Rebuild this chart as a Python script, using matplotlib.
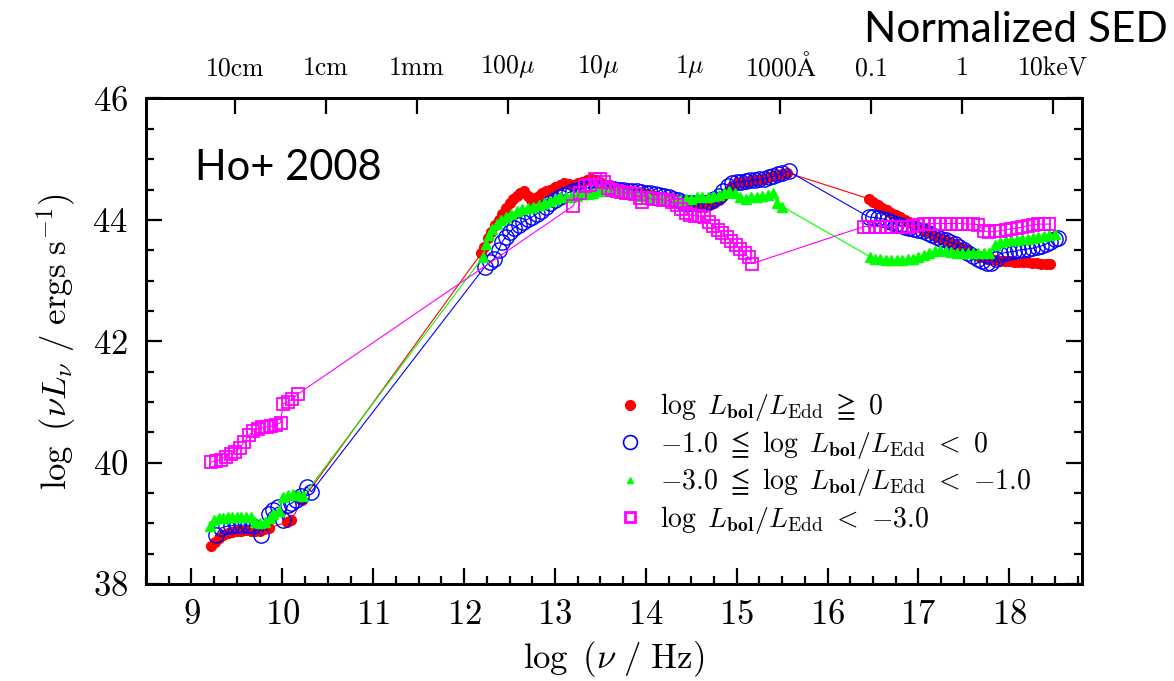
import matplotlib
matplotlib.use("Agg")
import matplotlib.pyplot as plt
from matplotlib.ticker import MultipleLocator
from matplotlib.lines import Line2D

plt.rcParams['font.family'] = ['serif']
plt.rcParams['font.serif'] = ['cmr10', 'DejaVu Serif']
plt.rcParams['mathtext.fontset'] = 'cm'
plt.rcParams['axes.formatter.use_mathtext'] = True

# ---------------- data ----------------
red_x = [9.22, 9.26, 9.30, 9.35, 9.40, 9.45, 9.50, 9.55, 9.60, 9.65, 9.70, 9.75, 9.80, 9.85,
         10.05, 10.10, 10.22,
         12.19, 12.22, 12.26, 12.30, 12.34, 12.38, 12.42, 12.46, 12.50, 12.54, 12.58, 12.62, 12.66,
         12.70, 12.74, 12.78, 12.82, 12.86, 12.90, 12.95, 13.00, 13.05, 13.10, 13.15, 13.20, 13.25,
         13.30, 13.35, 13.40, 13.45, 13.50, 13.55, 13.60, 13.65, 13.70, 13.75, 13.80, 13.85, 13.90,
         13.95, 14.00, 14.05, 14.10, 14.15, 14.20, 14.25, 14.30, 14.35, 14.40, 14.45, 14.50, 14.55,
         14.60, 14.65, 14.70, 14.75, 14.80, 14.85, 14.90, 14.95, 15.00, 15.05, 15.10, 15.15, 15.20,
         15.25, 15.30, 15.35, 15.40, 15.45, 15.50, 15.55,
         16.45, 16.50, 16.55, 16.60, 16.65, 16.70, 16.75, 16.80, 16.85, 16.90, 16.95, 17.00, 17.05,
         17.10, 17.15, 17.20, 17.25, 17.30, 17.35, 17.40, 17.45, 17.50, 17.55, 17.60, 17.65, 17.70,
         17.75, 17.80, 17.85, 17.90, 17.95, 18.00, 18.05, 18.10, 18.15, 18.20, 18.25, 18.30, 18.35,
         18.40, 18.45]
red_y = [38.62, 38.70, 38.76, 38.80, 38.84, 38.86, 38.88, 38.88, 38.89, 38.88, 38.88, 38.88, 38.90, 38.92,
         39.02, 39.06, 39.38,
         43.45, 43.55, 43.70, 43.80, 43.92, 44.00, 44.10, 44.20, 44.28, 44.34, 44.40, 44.44, 44.47,
         44.40, 44.33, 44.36, 44.40, 44.44, 44.47, 44.50, 44.54, 44.58, 44.60, 44.59, 44.58, 44.60,
         44.62, 44.65, 44.67, 44.66, 44.62, 44.58, 44.55, 44.52, 44.50, 44.48, 44.47, 44.46, 44.45,
         44.44, 44.42, 44.41, 44.40, 44.38, 44.37, 44.35, 44.34, 44.33, 44.31, 44.28, 44.26, 44.24,
         44.22, 44.22, 44.24, 44.28, 44.33, 44.40, 44.48, 44.55, 44.60, 44.62, 44.63, 44.64, 44.65,
         44.66, 44.68, 44.70, 44.72, 44.74, 44.76, 44.78,
         44.35, 44.30, 44.25, 44.20, 44.16, 44.12, 44.08, 44.04, 44.00, 43.96, 43.92, 43.88, 43.84,
         43.80, 43.76, 43.72, 43.69, 43.66, 43.63, 43.60, 43.56, 43.52, 43.48, 43.44, 43.41, 43.38,
         43.36, 43.35, 43.34, 43.33, 43.32, 43.32, 43.31, 43.31, 43.30, 43.30, 43.29, 43.29, 43.28,
         43.28, 43.27]

blue_x = [9.27, 9.32, 9.38, 9.44, 9.50, 9.56, 9.62, 9.68, 9.77, 9.85, 9.90, 9.95, 10.01, 10.06,
          10.10, 10.15, 10.20, 10.27, 10.32,
          12.23, 12.28, 12.33, 12.38, 12.42, 12.46, 12.50, 12.55, 12.60, 12.65, 12.70, 12.75, 12.80,
          12.85, 12.90, 12.95, 13.00, 13.05, 13.10, 13.15, 13.20, 13.25, 13.30, 13.35, 13.40, 13.45,
          13.50, 13.55, 13.60, 13.65, 13.70, 13.75, 13.80, 13.85, 13.90, 13.95, 14.00, 14.05, 14.10,
          14.15, 14.20, 14.25, 14.30, 14.35, 14.40, 14.45, 14.50, 14.55, 14.60, 14.65, 14.70, 14.75,
          14.80, 14.85, 14.90, 14.95, 15.00, 15.05, 15.10, 15.15, 15.20, 15.25, 15.30, 15.35, 15.40,
          15.45, 15.50, 15.57,
          16.45, 16.50, 16.55, 16.60, 16.65, 16.70, 16.75, 16.80, 16.85, 16.90, 16.95, 17.00, 17.05,
          17.10, 17.15, 17.20, 17.25, 17.30, 17.35, 17.40, 17.45, 17.50, 17.55, 17.60, 17.65, 17.70,
          17.75, 17.80, 17.85, 17.90, 17.95, 18.00, 18.05, 18.10, 18.15, 18.20, 18.25, 18.30, 18.35,
          18.40, 18.45, 18.50, 18.53]
blue_y = [38.80, 38.92, 38.95, 38.96, 38.97, 38.97, 38.97, 38.96, 38.80, 39.16, 39.22, 39.27, 39.05, 39.30,
          39.33, 39.38, 39.45, 39.60, 39.52,
          43.23, 43.30, 43.36, 43.50, 43.64, 43.72, 43.80, 43.87, 43.92, 43.97, 44.01, 44.05, 44.10,
          44.15, 44.22, 44.28, 44.33, 44.37, 44.41, 44.45, 44.48, 44.50, 44.52, 44.53, 44.53, 44.53,
          44.53, 44.52, 44.52, 44.51, 44.50, 44.49, 44.48, 44.48, 44.47, 44.46, 44.45, 44.44, 44.43,
          44.41, 44.39, 44.37, 44.35, 44.32, 44.30, 44.28, 44.27, 44.27, 44.27, 44.28, 44.30, 44.34,
          44.40, 44.47, 44.55, 44.60, 44.62, 44.63, 44.64, 44.65, 44.66, 44.67, 44.68, 44.70, 44.72,
          44.75, 44.77, 44.80,
          44.05, 44.04, 44.03, 44.02, 44.00, 43.97, 43.94, 43.91, 43.89, 43.87, 43.85, 43.83, 43.81,
          43.78, 43.75, 43.72, 43.69, 43.66, 43.63, 43.60, 43.56, 43.51, 43.46, 43.41, 43.36, 43.32,
          43.29, 43.29, 43.36, 43.44, 43.46, 43.47, 43.48, 43.50, 43.51, 43.52, 43.53, 43.55, 43.57,
          43.60, 43.64, 43.68, 43.70]

green_x = [9.20, 9.25, 9.30, 9.35, 9.40, 9.45, 9.50, 9.55, 9.60, 9.65, 9.70, 9.75, 9.81, 9.86,
           9.90, 9.96, 10.01, 10.06, 10.12, 10.17, 10.23,
           12.21, 12.24, 12.27, 12.31, 12.36, 12.41, 12.46, 12.52, 12.58, 12.64, 12.70, 12.76, 12.82,
           12.88, 12.94, 13.00, 13.06, 13.12, 13.18, 13.24, 13.30, 13.36, 13.42, 13.48, 13.54, 13.60,
           13.66, 13.72, 13.78, 13.84, 13.90, 13.96, 14.02, 14.08, 14.14, 14.20, 14.26, 14.32, 14.38,
           14.44, 14.50, 14.56, 14.62, 14.68, 14.74, 14.80, 14.86, 14.92, 14.98, 15.04, 15.10, 15.16,
           15.22, 15.28, 15.34, 15.40, 15.44, 15.50,
           16.47, 16.52, 16.58, 16.64, 16.70, 16.76, 16.82, 16.88, 16.94, 17.00, 17.06, 17.12, 17.18,
           17.24, 17.30, 17.36, 17.42, 17.48, 17.54, 17.60, 17.66, 17.72, 17.78, 17.84, 17.90, 17.96,
           18.02, 18.08, 18.14, 18.20, 18.26, 18.32, 18.38, 18.44, 18.50]
green_y = [38.95, 39.05, 39.08, 39.09, 39.10, 39.10, 39.10, 39.10, 39.10, 39.10, 39.02, 39.01, 39.02, 39.08,
           39.16, 39.20, 39.44, 39.46, 39.48, 39.47, 39.45,
           43.39, 43.60, 43.75, 43.85, 43.94, 44.00, 44.05, 44.10, 44.15, 44.18, 44.20, 44.22, 44.24,
           44.27, 44.31, 44.35, 44.38, 44.38, 44.38, 44.40, 44.42, 44.43, 44.45, 44.47, 44.48, 44.49,
           44.48, 44.46, 44.44, 44.42, 44.41, 44.40, 44.39, 44.38, 44.37, 44.36, 44.34, 44.33, 44.33,
           44.34, 44.35, 44.37, 44.38, 44.38, 44.39, 44.41, 44.44, 44.48, 44.44, 44.38, 44.34, 44.37,
           44.38, 44.39, 44.41, 44.45, 44.28, 44.22,
           43.39, 43.36, 43.35, 43.34, 43.34, 43.34, 43.34, 43.35, 43.36, 43.38, 43.42, 43.46, 43.49,
           43.50, 43.49, 43.47, 43.46, 43.46, 43.45, 43.45, 43.45, 43.45, 43.46, 43.58, 43.63, 43.65,
           43.66, 43.67, 43.68, 43.69, 43.70, 43.71, 43.73, 43.75, 43.76]

mag_x = [9.22, 9.27, 9.32, 9.38, 9.43, 9.48, 9.53, 9.58, 9.63, 9.68, 9.73, 9.78, 9.83, 9.88,
         9.93, 9.98, 10.01, 10.06, 10.11, 10.17,
         13.20, 13.27, 13.33, 13.39, 13.44, 13.49, 13.54, 13.58, 13.63, 13.68, 13.73, 13.78, 13.83,
         13.88, 13.93, 13.96, 14.02, 14.08, 14.14, 14.19, 14.24, 14.29, 14.34, 14.39, 14.44, 14.49,
         14.54, 14.59, 14.64, 14.69, 14.74, 14.79, 14.84, 14.89, 14.94, 14.99, 15.04, 15.09, 15.13,
         15.17,
         16.40, 16.46, 16.52, 16.58, 16.64, 16.70, 16.76, 16.82, 16.88, 16.94, 17.00, 17.06, 17.12,
         17.18, 17.24, 17.30, 17.36, 17.42, 17.48, 17.54, 17.60, 17.66, 17.72, 17.78, 17.84, 17.90,
         17.96, 18.02, 18.08, 18.14, 18.20, 18.26, 18.32, 18.38, 18.44]
mag_y = [40.01, 40.03, 40.05, 40.10, 40.15, 40.18, 40.24, 40.34, 40.45, 40.52, 40.56, 40.58, 40.59, 40.60,
         40.62, 40.66, 40.97, 41.00, 41.05, 41.13,
         44.23, 44.45, 44.55, 44.58, 44.68, 44.68, 44.62, 44.52, 44.50, 44.48, 44.46, 44.45, 44.44,
         44.43, 44.36, 44.30, 44.36, 44.34, 44.34, 44.33, 44.32, 44.29, 44.24, 44.18, 44.11, 44.08,
         44.07, 44.06, 44.04, 43.97, 43.90, 43.84, 43.78, 43.72, 43.65, 43.58, 43.52, 43.45, 43.38,
         43.28,
         43.89, 43.89, 43.89, 43.89, 43.89, 43.89, 43.89, 43.89, 43.89, 43.90, 43.92, 43.94, 43.94,
         43.94, 43.94, 43.94, 43.94, 43.94, 43.94, 43.93, 43.93, 43.92, 43.82, 43.80, 43.81, 43.82,
         43.84, 43.85, 43.86, 43.88, 43.90, 43.92, 43.93, 43.93, 43.93]

bottom_ticks = [9, 10, 11, 12, 13, 14, 15, 16, 17, 18]
left_ticks = [38, 40, 42, 44, 46]
top_tick_pos = [9.48, 10.48, 11.48, 12.48, 13.48, 14.48, 15.48, 16.48, 17.48, 18.48]
top_tick_labels = ['10cm', '1cm', '1mm', r'$100\mu$', r'$10\mu$', r'$1\mu$',
                   r'$1000\mathrm{\AA}$', '0.1', '1', '10keV']

legend_labels = [r'$\log\ L_{\mathbf{bol}}/L_{\mathrm{Edd}}\ \geqq\ 0$',
                 r'${-}1.0\ \leqq\ \log\ L_{\mathbf{bol}}/L_{\mathrm{Edd}}\ <\ 0$',
                 r'${-}3.0\ \leqq\ \log\ L_{\mathbf{bol}}/L_{\mathrm{Edd}}\ <\ {-}1.0$',
                 r'$\log\ L_{\mathbf{bol}}/L_{\mathrm{Edd}}\ <\ {-}3.0$']

# ---------------- figure ----------------
fig = plt.figure(figsize=(11.74, 6.81), dpi=100)
ax = fig.add_axes([0.1244, 0.1424, 0.7973, 0.7130])

lw = 0.8
ax.plot(red_x, red_y, color='#ff0000', lw=lw, marker='o', ms=7, mec='#ff0000', mfc='#ff0000', zorder=2)
ax.plot(blue_x, blue_y, color='#0000ff', lw=lw, marker='o', ms=11, mec='#0000ff', mfc='none', mew=1.0, zorder=3)
ax.plot(green_x, green_y, color='#00ff00', lw=lw, marker='^', ms=7, mec='#00ff00', mfc='#00ff00', zorder=4)
ax.plot(mag_x, mag_y, color='#ff00ff', lw=lw, marker='s', ms=9, mec='#ff00ff', mfc='none', mew=1.3, zorder=5)

ax.set_xlim(8.5, 18.8)
ax.set_ylim(38, 46)
ax.set_xticks(bottom_ticks)
ax.set_yticks(left_ticks)
ax.xaxis.set_minor_locator(MultipleLocator(0.25))
ax.yaxis.set_minor_locator(MultipleLocator(0.5))
ax.tick_params(which='both', direction='in', top=False, right=True, width=1.6, labelsize=25)
ax.tick_params(which='major', length=11.5)
ax.tick_params(which='minor', length=5.5)
ax.tick_params(axis='x', pad=11)
ax.tick_params(axis='y', pad=13)
for s in ax.spines.values():
    s.set_linewidth(2.0)

ax.set_xlabel(r'$\log\ (\nu\ /\ \mathrm{Hz})$', fontsize=25, labelpad=6)
ax.set_ylabel(r'$\log\ (\nu L_{\nu}\ /\ \mathrm{ergs\ s^{-1}})$', fontsize=25, labelpad=10)

ax2 = ax.twiny()
ax2.set_xlim(ax.get_xlim())
ax2.set_xticks(top_tick_pos)
ax2.set_xticklabels(top_tick_labels)
ax2.tick_params(direction='in', length=11.5, width=1.6, labelsize=18.5, pad=13)
for s in ax2.spines.values():
    s.set_linewidth(2.0)

ax.text(0.052, 0.832, 'Ho+ 2008', transform=ax.transAxes, fontsize=30,
        family='Lato', ha='left', va='baseline')
fig.text(1168 / 1174, 1 - 42 / 681, 'Normalized SED', fontsize=30.5, family='Lato',
         ha='right', va='baseline')

handles = [
    Line2D([], [], ls='none', marker='o', ms=7, mfc='#ff0000', mec='#ff0000'),
    Line2D([], [], ls='none', marker='o', ms=10, mfc='none', mec='#0000ff', mew=1.2),
    Line2D([], [], ls='none', marker='^', ms=5, mfc='#00ff00', mec='#00ff00'),
    Line2D([], [], ls='none', marker='s', ms=6.5, mfc='none', mec='#ff00ff', mew=2.0),
]
ax.legend(handles, legend_labels, loc='upper left', bbox_to_anchor=(0.502, 0.397),
          frameon=False, fontsize=20, handlelength=1.0, handletextpad=0.58,
          labelspacing=0.2, borderpad=0, borderaxespad=0)

fig.savefig('out.png', dpi=100)
